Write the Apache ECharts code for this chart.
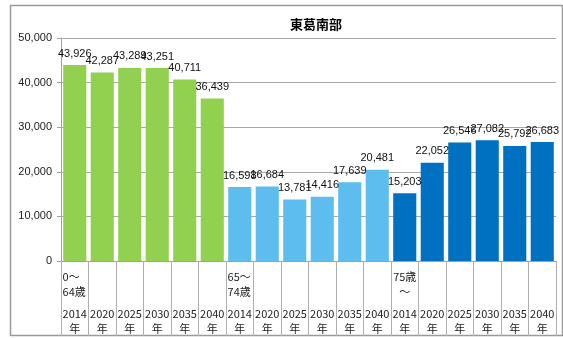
<!DOCTYPE html>
<html>
<head>
<meta charset="utf-8">
<script src="https://cdn.jsdelivr.net/npm/echarts@6/dist/echarts.min.js"></script>
<style>
  html, body { margin: 0; padding: 0; background: #fff; }
  #chart { width: 563px; height: 338px; }
</style>
</head>
<body>
<div id="chart"></div>
<script>
// Population projection for 東葛南部 by age band and year
const years = ['2014', '2020', '2025', '2030', '2035', '2040'];
const groupNames = [['0～', '64歳'], ['65～', '74歳'], ['75歳', '～']];
const groupColors = ['#92D050', '#5DBDEF', '#0070C0'];
const age0to64 = [43926, 42287, 43289, 43251, 40711, 36439];
const age65to74 = [16598, 16684, 13781, 14416, 17639, 20481];
const age75plus = [15203, 22052, 26546, 27082, 25792, 26683];
const yTicks = { min: 0, max: 50000, interval: 10000 };

const groups = [age0to64, age65to74, age75plus];
const categories = [];
const barData = [];
groups.forEach((vals, g) => {
  vals.forEach((v, i) => {
    categories.push({ group: g, yearIndex: i });
    barData.push({ value: v, itemStyle: { color: groupColors[g] } });
  });
});

const fmt = v => Number(v).toLocaleString('en-US');
const jpFont = '"Noto Sans CJK JP", sans-serif';
const numFont = '"Liberation Sans", Arial, sans-serif';

const chart = echarts.init(document.getElementById('chart'));
chart.setOption({
  animation: false,
  backgroundColor: '#fff',
  title: {
    text: '東葛南部',
    left: 311,
    textAlign: 'center',
    top: 13,
    textStyle: { fontFamily: jpFont, fontSize: 13, fontWeight: 'bold', color: '#000' }
  },
  graphic: [{
    type: 'rect',
    shape: { x: 10.5, y: 5.5, width: 552, height: 330 },
    style: { fill: 'none', stroke: '#9a9a9a', lineWidth: 1.5 },
    silent: true,
    z: -1
  }],
  grid: { left: 61, top: 38, right: 7, bottom: 77 },
  xAxis: {
    type: 'category',
    data: categories.map((c, i) => String(i)),
    axisLine: { lineStyle: { color: '#a0a0a0' } },
    axisTick: { show: true, interval: 0, length: 75, lineStyle: { color: '#b0b0b0' } },
    axisLabel: {
      interval: 0,
      margin: 8,
      formatter: (val) => {
        const c = categories[Number(val)];
        const first = c.yearIndex === 0;
        let top;
        if (first) {
          const n = groupNames[c.group];
          const st2 = c.group === 2 ? 'gc' : 'gl';
          const st1 = c.group === 2 ? 'gc' : 'gl';
          top = `{${st1}|${n[0]}}\n{${st2}|${n[1]}}`;
        } else {
          top = '{gl| }\n{gl| }';
        }
        return `${top}\n{s| }\n{y|${years[c.yearIndex]}}\n{y|年}`;
      },
      rich: {
        gl: { fontFamily: jpFont, fontSize: 11, lineHeight: 15, width: 24, align: 'left', color: '#222' },
        gc: { fontFamily: jpFont, fontSize: 11, lineHeight: 15, width: 24, align: 'center', color: '#222' },
        s: { fontSize: 6, lineHeight: 7 },
        y: { fontFamily: jpFont, fontSize: 11, lineHeight: 15, align: 'center', color: '#222' }
      }
    }
  },
  yAxis: {
    type: 'value',
    min: yTicks.min,
    max: yTicks.max,
    interval: yTicks.interval,
    axisLine: { show: true, lineStyle: { color: '#a0a0a0' } },
    axisTick: { show: true, length: 4, lineStyle: { color: '#a0a0a0' } },
    splitLine: { lineStyle: { color: '#a8a8a8' } },
    axisLabel: {
      margin: 9,
      formatter: v => fmt(v),
      fontFamily: numFont,
      fontSize: 11,
      color: '#222'
    }
  },
  series: [{
    type: 'bar',
    data: barData,
    barCategoryGap: '16%',
    label: {
      show: true,
      position: 'top',
      distance: 6,
      formatter: p => fmt(p.value),
      fontFamily: numFont,
      fontSize: 11,
      color: '#111'
    }
  }]
});
</script>
</body>
</html>
